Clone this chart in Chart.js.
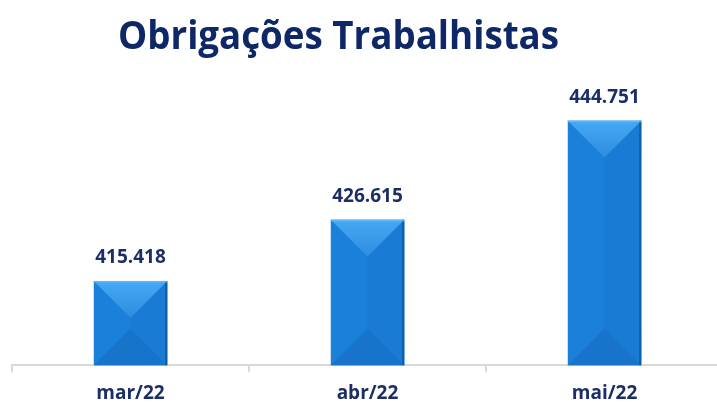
<!DOCTYPE HTML>
<html lang="pt">
<head>
    <meta charset="UTF-8">
    <title>Obrigações Trabalhistas</title>
    <script src="https://cdn.jsdelivr.net/npm/chart.js"></script>
    <style>
        html, body { margin: 0; padding: 0; background: #fff; overflow: hidden; }
        .wrap { position: relative; width: 735px; height: 405px; }
    </style>
</head>
<body>
<div class="wrap">
    <canvas id="obrigacoesChart"></canvas>
</div>

<script>
    // dados (em milhares)
    const titulo = 'Obrigações Trabalhistas';
    const meses = ['mar/22', 'abr/22', 'mai/22'];
    const valores = [415.418, 426.615, 444.751];
    const rotulos = ['415.418', '426.615', '444.751'];

    const azulTexto = '#1b2f66';

    // título desenhado à mão (fica deslocado do centro, como no original)
    const tituloPlugin = {
        id: 'tituloPlugin',
        afterDraw(chart) {
            const ctx = chart.ctx;
            ctx.save();
            ctx.font = 'bold 40px "Open Sans"';
            ctx.fillStyle = '#0e2766';
            ctx.textBaseline = 'alphabetic';
            const w = ctx.measureText(titulo).width;
            const sx = 441 / w;
            ctx.translate(338.5, 49);
            ctx.scale(sx, 1);
            ctx.textAlign = 'center';
            ctx.fillText(titulo, 0, 0);
            ctx.restore();
        }
    };

    // efeito de chanfro nas barras + rótulos de valor
    const barraPlugin = {
        id: 'barraPlugin',
        afterDatasetsDraw(chart) {
            const ctx = chart.ctx;
            const meta = chart.getDatasetMeta(0);
            meta.data.forEach((bar, i) => {
                const l = bar.x - bar.width / 2;
                const r = bar.x + bar.width / 2;
                const t = bar.y;
                const b = Math.min(bar.base, chart.chartArea.bottom);
                const d = Math.min(bar.width / 2, (b - t) / 2);
                ctx.save();

                // metade direita um pouco mais escura
                ctx.fillStyle = '#197bd3';
                ctx.beginPath();
                ctx.moveTo(bar.x, t + d);
                ctx.lineTo(r, t);
                ctx.lineTo(r, b);
                ctx.lineTo(bar.x, b - d);
                ctx.closePath();
                ctx.fill();

                // triângulo de cima, mais claro
                const gTop = ctx.createLinearGradient(0, t, 0, t + d);
                gTop.addColorStop(0, '#46a9f4');
                gTop.addColorStop(1, '#2d8de1');
                ctx.fillStyle = gTop;
                ctx.beginPath();
                ctx.moveTo(l, t);
                ctx.lineTo(r, t);
                ctx.lineTo(bar.x, t + d);
                ctx.closePath();
                ctx.fill();

                // triângulo de baixo
                ctx.fillStyle = '#1874cb';
                ctx.beginPath();
                ctx.moveTo(l, b);
                ctx.lineTo(r, b);
                ctx.lineTo(bar.x, b - d);
                ctx.closePath();
                ctx.fill();

                // bordas
                ctx.fillStyle = '#0c5ca6';
                ctx.fillRect(r - 2, t, 2, b - t);
                ctx.fillStyle = '#5cb6f7';
                ctx.fillRect(l, t, r - l, 1.5);

                // rótulo
                ctx.font = 'bold 19px "Open Sans"';
                ctx.fillStyle = azulTexto;
                ctx.textAlign = 'center';
                ctx.textBaseline = 'middle';
                ctx.fillText(rotulos[i], bar.x, t - 23);
                ctx.restore();
            });
        }
    };

    const ctx = document.getElementById('obrigacoesChart').getContext('2d');
    new Chart(ctx, {
        type: 'bar',
        data: {
            labels: meses,
            datasets: [{
                data: valores,
                backgroundColor: '#1b80d9',
                borderWidth: 0,
                categoryPercentage: 1,
                barPercentage: 0.31
            }]
        },
        options: {
            responsive: true,
            maintainAspectRatio: false,
            animation: false,
            layout: { padding: { top: 92, left: 12, right: 12, bottom: -10 } },
            plugins: {
                legend: { display: false },
                title: { display: false },
                tooltip: { enabled: false }
            },
            scales: {
                x: {
                    grid: {
                        offset: true,
                        drawOnChartArea: false,
                        drawTicks: true,
                        tickLength: 7,
                        color: '#d9d9d9',
                        lineWidth: 2
                    },
                    border: { display: true, color: '#d9d9d9', width: 2 },
                    ticks: {
                        padding: 10,
                        color: azulTexto,
                        font: { family: '"Open Sans"', size: 19, weight: 'bold' }
                    }
                },
                y: {
                    display: false,
                    min: 400,
                    max: 450
                }
            }
        },
        plugins: [tituloPlugin, barraPlugin]
    });
</script>
</body>
</html>
